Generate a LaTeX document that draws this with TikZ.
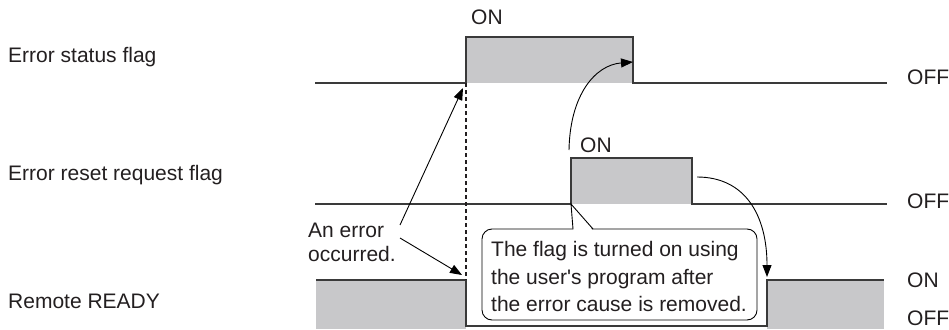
\documentclass[tikz,border=0pt]{standalone}
\usepackage{fontspec}
\setmainfont{Liberation Sans}
\usetikzlibrary{arrows.meta}
\definecolor{sigfill}{RGB}{200,200,202}
\definecolor{sigline}{RGB}{58,58,58}
\definecolor{ink}{RGB}{35,31,32}
\begin{document}
\begin{tikzpicture}[x=1pt,y=-1pt,
  every node/.style={font=\fontsize{21}{24}\selectfont, text=ink, inner sep=0pt},
  label text/.style={anchor=base west},
  level/.style={fill=sigfill},
  signal/.style={draw=sigline, line width=1.3pt},
  guide/.style={draw=ink, line width=1.3pt, dash pattern=on 4pt off 3pt},
  pointer/.style={draw=black, line width=0.9pt, -{Triangle[length=12pt,width=9pt]}},
  notebox/.style={draw=black, line width=0.9pt, fill=white, rounded corners=10pt,
    minimum width=275pt, minimum height=91pt},
  notetext/.style={align=left, font=\fontsize{21}{27.5}\selectfont}]
\useasboundingbox (0,0) rectangle (949,329);

% signal names
\node[label text] (l1) at (8,63) {Error status flag};
\node[label text] (l2) at (8,180) {Error reset request flag};
\node[label text] (l3) at (8,308) {Remote READY};

% state labels
\node[label text] (on1) at (471,25) {ON};
\node[label text] (on2) at (580,152) {ON};
\node[label text] (off1) at (907,84) {OFF};
\node[label text] (off2) at (907,208) {OFF};
\node[label text] (on3) at (907,287) {ON};
\node[label text] (off3) at (907,325) {OFF};

% Error status flag
\fill[level] (466,37) rectangle (633,83);
\draw[signal] (315,83) -- (466,83) -- (466,37) -- (633,37) -- (633,83) -- (887,83);
% Error reset request flag
\fill[level] (571,158) rectangle (692,204);
\draw[signal] (315,204) -- (571,204) -- (571,158) -- (692,158) -- (692,204) -- (887,204);
% Remote READY
\fill[level] (316,280) rectangle (466,329);
\fill[level] (767,280) rectangle (884,329);
\draw[signal] (316,280) -- (466,280) -- (466,326) -- (767,326) -- (767,280) -- (884,280);

% key instants
\coordinate (errRise) at (466,83);
\coordinate (errTip) at (463,88);
\coordinate (readyTip) at (462,275);
\coordinate (readyFall) at (466,280);
\coordinate (resetRise) at (571,204);
\coordinate (resetStart) at (569,150);
\coordinate (errFall) at (633,62);
\coordinate (resetFall) at (697,177);
\coordinate (readyRise) at (767,277);

% moment of the error
\draw[guide] (errRise) -- (readyFall);

% error note
\node[anchor=west] (err) at (308,244.3) {\fontsize{21}{24}\selectfont\begin{tabular}{@{}l@{}}An error\\[0pt]occurred.\end{tabular}};
\coordinate (errA) at (400,225);
\coordinate (errB) at (400,238);
\draw[pointer] (errA) -- (errTip);
\draw[pointer] (errB) -- (readyTip);

% cause and effect
\draw[pointer] (resetStart) .. controls (570,95) and (595,65) .. (errFall);
\draw[pointer] (resetFall) .. controls (745,177) and (767,215) .. (readyRise);

% callout
\node[notebox] (box) at (619.5,274.5) {};
\fill[white] (573.4,230.5) -- (resetRise) -- (592.6,230.5) -- cycle;
\draw[black, line width=0.9pt] (573,229) -- (resetRise) -- (593,229);
\node[notetext, anchor=west] (note) at (491,276.9) {The flag is turned on using\\the user\textquotesingle s program after\\the error cause is removed.};
\end{tikzpicture}
\end{document}
